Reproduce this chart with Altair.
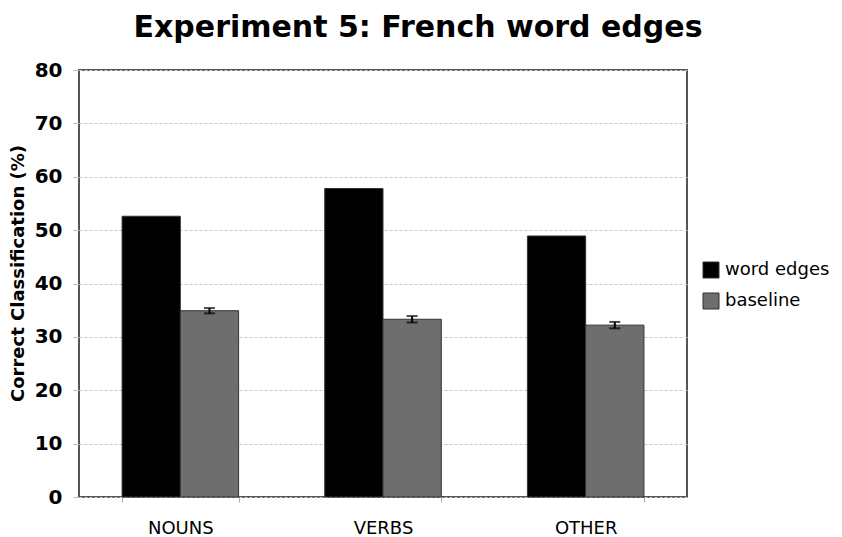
import altair as alt
import pandas as pd

categories = ["NOUNS", "VERBS", "OTHER"]
series = ["word edges", "baseline"]
word_edges = [52.6, 57.8, 48.9]
baseline = [34.9, 33.3, 32.2]
baseline_err = [0.5, 0.6, 0.6]

rows = []
for i, c in enumerate(categories):
    rows.append({"cat": c, "series": "word edges", "value": word_edges[i], "err": None})
    rows.append({"cat": c, "series": "baseline", "value": baseline[i], "err": baseline_err[i]})
df = pd.DataFrame(rows)
df["lo"] = df["value"] - df["err"]
df["hi"] = df["value"] + df["err"]
err_df = df[df["series"] == "baseline"].copy()

FONT = "DejaVu Sans"

x_enc = alt.X(
    "cat:N", sort=categories, title=None,
    scale=alt.Scale(paddingInner=0.425, paddingOuter=0.2125),
    axis=alt.Axis(labelAngle=0, labelFont=FONT, labelFontSize=18, labelColor="#000",
                  tickBand="extent", tickSize=5, tickColor="#aaa", labelPadding=17,
                  domain=False, grid=False),
)
xoff = alt.XOffset("series:N", sort=series, scale=alt.Scale(paddingInner=0, paddingOuter=0))

bars = alt.Chart(df).mark_bar(stroke="#333", strokeWidth=1).encode(
    x=x_enc,
    xOffset=xoff,
    y=alt.Y("value:Q", title="Correct Classification (%)",
            scale=alt.Scale(domain=[0, 80], nice=False),
            axis=alt.Axis(values=list(range(0, 81, 10)), labelFont=FONT, labelFontSize=20,
                          labelFontWeight="bold", labelColor="#000", tickSize=6,
                          tickColor="#bbb", labelPadding=11, domain=False,
                          gridColor="#c8c8c8", gridDash=[3, 2], gridWidth=1,
                          titleFont=FONT, titleFontSize=18, titleFontWeight="bold",
                          titleColor="#000", titleX=-61, titleY=203,
                          titleBaseline="middle")),
    color=alt.Color("series:N", sort=series,
                    scale=alt.Scale(domain=series, range=["#000000", "#6e6e6e"]),
                    legend=alt.Legend(title=None, orient="none", legendX=623, legendY=191,
                                      symbolType="square", symbolSize=256,
                                      symbolStrokeColor="#333", symbolStrokeWidth=1,
                                      labelFont=FONT, labelFontSize=18, labelColor="#000",
                                      rowPadding=11, labelOffset=5)),
)

rules = alt.Chart(err_df).mark_rule(color="#000", strokeWidth=2).encode(
    x=alt.X("cat:N", sort=categories),
    xOffset=xoff,
    y="lo:Q",
    y2="hi:Q",
)
caps_lo = alt.Chart(err_df).mark_tick(color="#000", thickness=2, size=11).encode(
    x=alt.X("cat:N", sort=categories),
    xOffset=xoff,
    y="lo:Q",
)
caps_hi = alt.Chart(err_df).mark_tick(color="#000", thickness=2, size=11).encode(
    x=alt.X("cat:N", sort=categories),
    xOffset=xoff,
    y="hi:Q",
)

chart = alt.layer(bars, rules, caps_lo, caps_hi).properties(
    width=608, height=427,
    title=alt.TitleParams("Experiment 5: French word edges", font=FONT, fontSize=30,
                          fontWeight="bold", color="#000", anchor="middle", dx=35,
                          offset=17),
    autosize=alt.AutoSizeParams(type="none"),
    padding={"left": 71, "top": 62, "right": 147, "bottom": 40},
).configure(background="white").configure_view(stroke="#555", strokeWidth=2)

chart.save("out.html", embed_options={"renderer": "svg", "actions": False})
